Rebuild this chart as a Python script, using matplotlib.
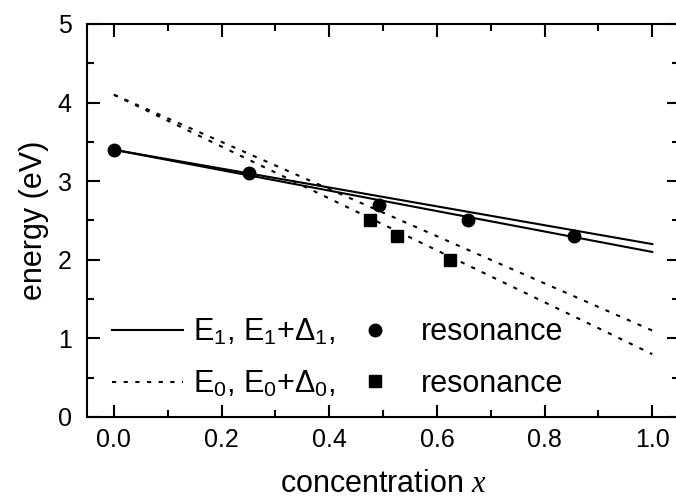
import matplotlib
matplotlib.use('Agg')
import matplotlib.pyplot as plt
from matplotlib.ticker import MultipleLocator

plt.rcParams['font.family'] = ['Liberation Sans', 'DejaVu Sans']
plt.rcParams['mathtext.fontset'] = 'custom'
plt.rcParams['mathtext.rm'] = 'Liberation Sans'
plt.rcParams['mathtext.it'] = 'Liberation Serif:italic'

# model curves (end points)
x_line = [0.0, 1.0]
e1 = [3.4, 2.2]
e1_d1 = [3.4, 2.1]
e0 = [4.1, 1.1]
e0_d0 = [4.1, 0.8]

# resonance data
x_circ = [0.0, 0.25, 0.493, 0.657, 0.854]
y_circ = [3.4, 3.1, 2.7, 2.5, 2.3]
x_sq = [0.476, 0.526, 0.625]
y_sq = [2.5, 2.3, 2.0]

fig = plt.figure(figsize=(6.76, 5.0), dpi=100)
ax = fig.add_axes([0.1287, 0.166, 0.876, 0.786])

dots = (0, (2, 3.6))
l1, = ax.plot(x_line, e1, 'k-', lw=1.5)
ax.plot(x_line, e1_d1, 'k-', lw=1.5)
l2, = ax.plot(x_line, e0, color='k', lw=1.5, linestyle=dots)
ax.plot(x_line, e0_d0, color='k', lw=1.5, linestyle=dots)
p1, = ax.plot(x_circ, y_circ, 'ko', ms=9, linestyle='none')
p2, = ax.plot(x_sq, y_sq, 'ks', ms=8, linestyle='none')

ax.set_xlim(-0.05, 1.05)
ax.set_ylim(0, 5)
ax.xaxis.set_major_locator(MultipleLocator(0.2))
ax.xaxis.set_minor_locator(MultipleLocator(0.1))
ax.yaxis.set_major_locator(MultipleLocator(1))
ax.yaxis.set_minor_locator(MultipleLocator(0.5))
ax.tick_params(which='both', direction='in', top=True, right=True, width=1.5,
               labelsize=18)
ax.tick_params(which='major', length=9, pad=8)
ax.tick_params(which='minor', length=5)
ax.tick_params(axis='y', pad=11)
for s in ax.spines.values():
    s.set_linewidth(1.5)

ax.set_xlabel(r'concentration $x$', fontsize=22, labelpad=12)
ax.set_ylabel('energy (eV)', fontsize=22, labelpad=6)

ax.legend([l1, l2, p1, p2],
          [r'E$_1$, E$_1$+Δ$_1$,', r'E$_0$, E$_0$+Δ$_0$,', 'resonance', 'resonance'],
          ncol=2, frameon=False, fontsize=22, numpoints=1,
          handlelength=2.35, handletextpad=0.33, columnspacing=0.1,
          labelspacing=0.7, loc='lower left', bbox_to_anchor=(-0.005, -0.025))

fig.savefig('out.png', dpi=100)
